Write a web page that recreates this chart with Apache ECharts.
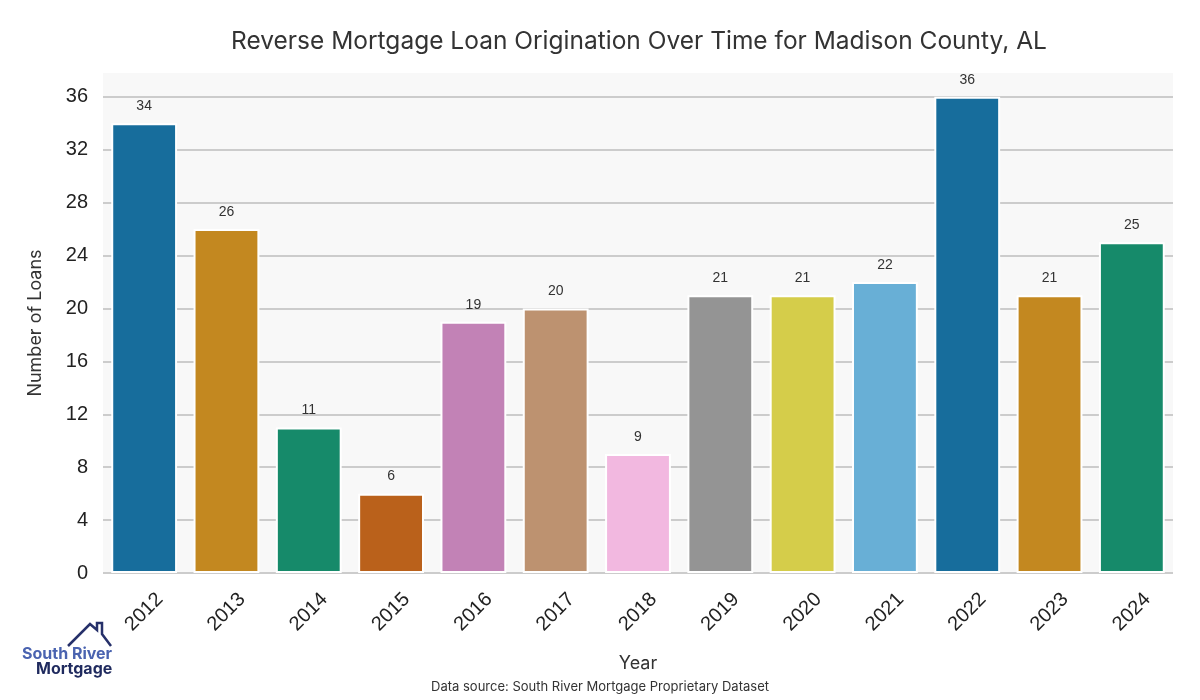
<!DOCTYPE html>
<html><head><meta charset="utf-8">
<script src="https://cdn.jsdelivr.net/npm/echarts@6/dist/echarts.min.js"></script>
<style>html,body{margin:0;padding:0;background:#fff}#c{width:1200px;height:700px}</style>
</head><body><div id="c"></div>
<script>
const years = ['2012','2013','2014','2015','2016','2017','2018','2019','2020','2021','2022','2023','2024'];
const loans = [34, 26, 11, 6, 19, 20, 9, 21, 21, 22, 36, 21, 25];
const barColors = ['#176D9C','#C38820','#168A6A','#BA611B','#C282B6','#BD9270','#F2B8E0','#949494','#D5CD4A','#68AFD6','#176D9C','#C38820','#168A6A'];
const yTicks = [0,4,8,12,16,20,24,28,32,36];

const chart = echarts.init(document.getElementById('c'));
chart.setOption({
  animation: false,
  backgroundColor: '#ffffff',
  title: {
    text: 'Reverse Mortgage Loan Origination Over Time for Madison County, AL',
    left: 634, top: 24, textAlign: 'center',
    textStyle: { fontFamily: 'Inter', fontSize: 24.5, fontWeight: 'normal', color: '#333333' }
  },
  grid: { left: 103, right: 27, top: 73, bottom: 127, show: false },
  xAxis: {
    type: 'category', data: years,
    name: 'Year', nameLocation: 'middle', nameGap: 82,
    nameTextStyle: { fontFamily: 'Inter', fontSize: 18, color: '#333333' },
    axisLine: { show: false }, axisTick: { show: false }, splitLine: { show: false },
    axisLabel: { rotate: 45, align: 'center', verticalAlign: 'middle', margin: 39, fontFamily: 'Liberation Sans', fontSize: 20, color: '#222222' }
  },
  yAxis: {
    type: 'value', min: 0, max: 37.8, interval: 4,
    name: 'Number of Loans', nameLocation: 'middle', nameGap: 58,
    nameTextStyle: { fontFamily: 'Inter', fontSize: 18, color: '#333333' },
    axisLine: { show: false }, axisTick: { show: false },
    axisLabel: { showMaxLabel: false, margin: 15, fontFamily: 'Liberation Sans', fontSize: 20, color: '#222222',
      formatter: v => yTicks.includes(v) ? String(v) : '' },
    splitArea: { show: true, areaStyle: { color: ['#F8F8F8', '#F8F8F8'] } },
    splitLine: { show: true, showMaxLine: false, lineStyle: { color: '#CCCCCC', width: 2 } }
  },
  series: [{
    type: 'bar', barWidth: '80%',
    data: loans.map((v, i) => ({ value: v, itemStyle: { color: barColors[i] } })),
    itemStyle: { borderColor: '#ffffff', borderWidth: 2 },
    label: { show: true, position: 'top', distance: 10, fontFamily: 'Liberation Sans', fontSize: 14, color: '#333333' }
  }],
  graphic: [
    { type: 'rect', z: 100, shape: { x: 95, y: 60, width: 8, height: 545 }, style: { fill: '#ffffff' } },
    { type: 'text', left: 'center', top: 681, style: { text: 'Data source: South River Mortgage Proprietary Dataset', fontFamily: 'Inter', fontSize: 13, fill: '#333333' } },
    { type: 'polyline', shape: { points: [[68,646],[90,624],[97,630],[97,623],[102,623],[102,634],[111,646]] }, style: { stroke: '#26306A', lineWidth: 2.5, fill: null } },
    { type: 'text', left: 22, top: 646, style: { text: 'South River', fontFamily: 'Inter', fontSize: 16, fontWeight: 'bold', fill: '#4A63B0' } },
    { type: 'text', left: 36, top: 661, style: { text: 'Mortgage', fontFamily: 'Inter', fontSize: 16, fontWeight: 'bold', fill: '#1F2A5E' } }
  ]
});
</script></body></html>
